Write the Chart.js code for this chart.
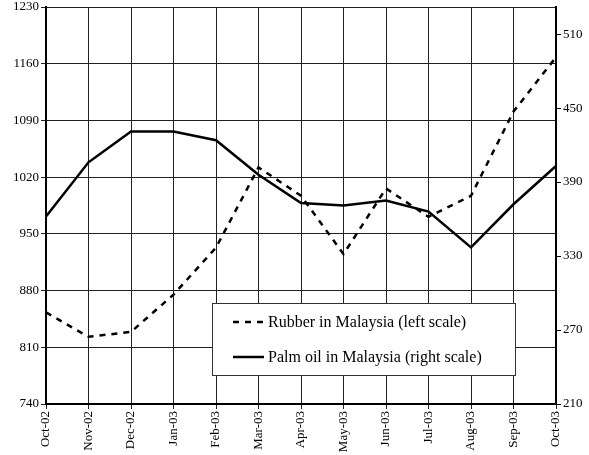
<!DOCTYPE html>
<html>
<head>
<meta charset="utf-8">
<script src="https://cdn.jsdelivr.net/npm/chart.js@4"></script>
<style>
  html, body { margin: 0; padding: 0; background: #fff; }
  canvas { display: block; }
</style>
</head>
<body>
<canvas id="chart" width="589" height="455"></canvas>
<script>
/* Rubber vs palm oil prices, Malaysia */
const months = ['Oct-02','Nov-02','Dec-02','Jan-03','Feb-03','Mar-03','Apr-03','May-03','Jun-03','Jul-03','Aug-03','Sep-03','Oct-03'];
const rubber = [853, 823, 829, 875, 933, 1032, 997, 925, 1006, 971, 997, 1101, 1168];
const palmOil = [362, 406, 431, 431, 424, 396, 373, 371, 375, 366, 337, 372, 403];
const leftTicks = [740, 810, 880, 950, 1020, 1090, 1160, 1230];
const rightTicks = [210, 270, 330, 390, 450, 510];
const seriesNames = ['Rubber in Malaysia (left scale)', 'Palm oil in Malaysia (right scale)'];

const FONT = "'Times New Roman', 'Liberation Serif', serif";

// legend drawn inside the plot, boxed, like the original
const boxLegend = {
    id: 'boxLegend',
    afterDraw(chart) {
        const ctx = chart.ctx;
        const x0 = 212, y0 = 303, w = 303, h = 72;
        ctx.save();
        ctx.fillStyle = '#fff';
        ctx.fillRect(x0, y0, w, h);
        ctx.strokeStyle = '#333';
        ctx.lineWidth = 1;
        ctx.strokeRect(x0 + 0.5, y0 + 0.5, w, h);
        const rows = [322, 357];
        chart.data.datasets.forEach((ds, i) => {
            const y = rows[i];
            ctx.beginPath();
            ctx.setLineDash(ds.borderDash || []);
            ctx.strokeStyle = ds.borderColor;
            ctx.lineWidth = ds.borderWidth;
            ctx.moveTo(233, y);
            ctx.lineTo(264, y);
            ctx.stroke();
            ctx.setLineDash([]);
            ctx.fillStyle = '#000';
            ctx.font = '16px ' + FONT;
            ctx.textBaseline = 'middle';
            ctx.fillText(ds.label, 268, y + 1);
        });
        ctx.restore();
    }
};

const tickFont = { family: FONT, size: 13 };

new Chart(document.getElementById('chart'), {
    type: 'line',
    data: {
        labels: months,
        datasets: [
            { label: seriesNames[0], data: rubber, yAxisID: 'yL', borderColor: '#000', borderWidth: 2.5, borderDash: [6, 6], pointRadius: 0, tension: 0, fill: false },
            { label: seriesNames[1], data: palmOil, yAxisID: 'yR', borderColor: '#000', borderWidth: 2.5, pointRadius: 0, tension: 0, fill: false }
        ]
    },
    options: {
        responsive: false,
        animation: false,
        layout: { padding: { top: 7, left: 0, right: 0, bottom: 0 } },
        plugins: { legend: { display: false }, tooltip: { enabled: false } },
        scales: {
            x: {
                offset: false,
                grid: { color: '#222', lineWidth: 1, tickLength: 5, drawTicks: true },
                border: { color: '#000', width: 2 },
                ticks: { color: '#000', font: tickFont, minRotation: 90, maxRotation: 90, autoSkip: false, padding: 2 },
                afterFit(s) { s.height = 51; s.paddingLeft = 0; s.paddingRight = 0; }
            },
            yL: {
                position: 'left',
                min: leftTicks[0], max: leftTicks[leftTicks.length - 1],
                grid: { color: '#222', lineWidth: 1, tickLength: 5 },
                border: { color: '#000', width: 2 },
                ticks: { autoSkip: false, color: '#000', font: tickFont, padding: 2, callback: v => String(v) },
                afterBuildTicks(s) { s.ticks = leftTicks.map(v => ({ value: v })); },
                afterFit(s) { s.width = 46; s.paddingTop = 0; s.paddingBottom = 0; }
            },
            yR: {
                position: 'right',
                min: 210, max: 532,
                grid: { drawOnChartArea: false, color: '#000', lineWidth: 1, tickLength: 5 },
                border: { color: '#000', width: 2 },
                ticks: { autoSkip: false, color: '#000', font: tickFont, padding: 2, callback: v => String(v) },
                afterBuildTicks(s) { s.ticks = rightTicks.map(v => ({ value: v })); },
                afterFit(s) { s.width = 33; s.paddingTop = 0; s.paddingBottom = 0; }
            }
        }
    },
    plugins: [boxLegend]
});
</script>
</body>
</html>
